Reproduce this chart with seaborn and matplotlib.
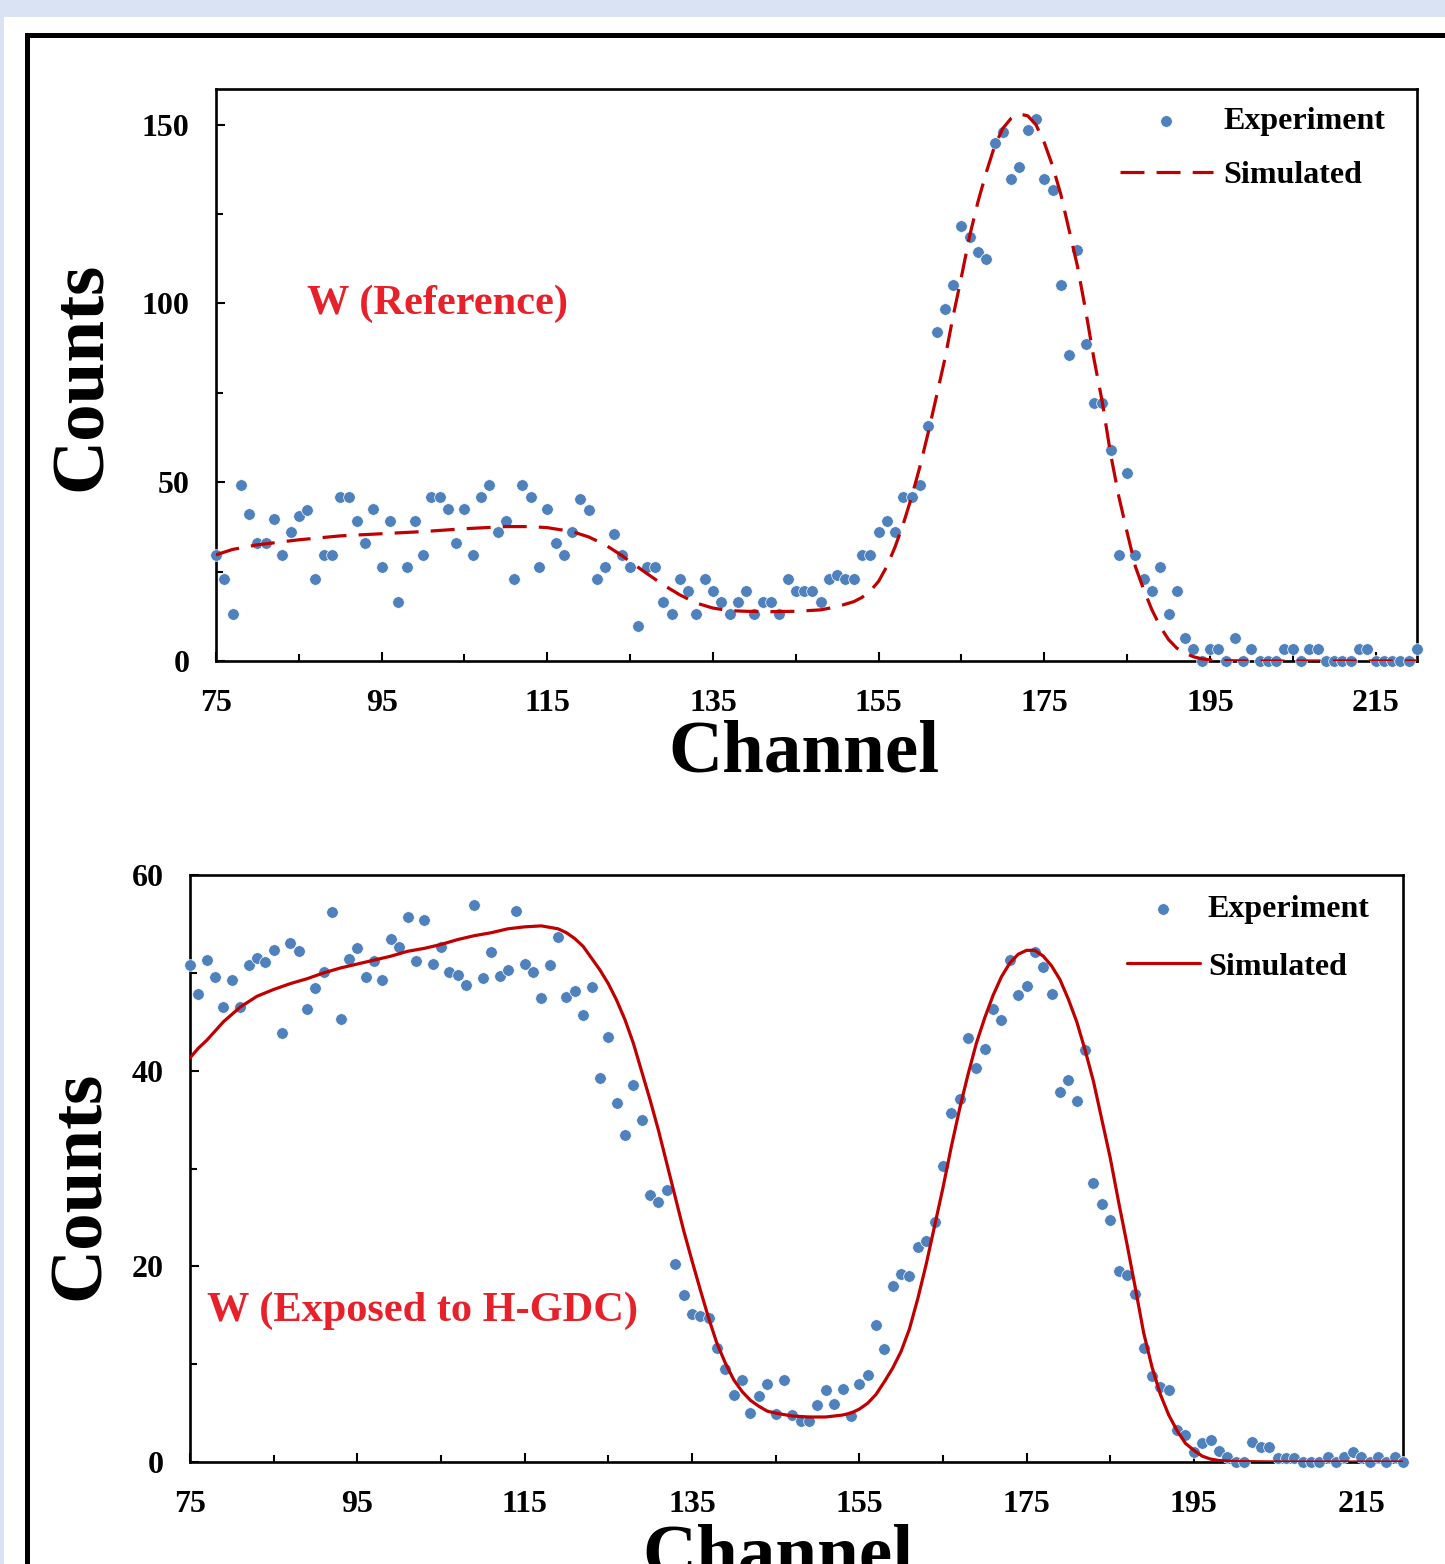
import numpy as np
import pandas as pd
import matplotlib
matplotlib.use("Agg")
import matplotlib.pyplot as plt
from matplotlib.patches import Rectangle
import seaborn as sns

# ---------------- data ----------------
channels = list(range(75, 221))

ref_counts = [
    29.7, 23.0, 13.2, 49.3, 41.0, 32.9, 32.9, 39.6, 29.7, 36.2,   # 75-84
    40.6, 42.3, 23.0, 29.7, 29.7, 46.0, 46.0, 39.3, 32.9, 42.5,   # 85-94
    26.3, 39.3, 16.4, 26.3, 39.3, 29.7, 46.0, 46.0, 42.5, 32.9,   # 95-104
    42.5, 29.7, 46.0, 49.3, 36.2, 39.3, 23.0, 49.3, 46.0, 26.3,   # 105-114
    42.5, 32.9, 29.7, 36.2, 45.3, 42.1, 23.0, 26.3, 35.4, 29.7,   # 115-124
    26.3, 9.9, 26.3, 26.3, 16.4, 13.2, 23.0, 19.7, 13.2, 23.0,    # 125-134
    19.7, 16.4, 13.2, 16.4, 19.7, 13.2, 16.4, 16.4, 13.2, 23.0,   # 135-144
    19.7, 19.7, 19.7, 16.4, 23.0, 24.1, 23.0, 23.0, 29.7, 29.7,   # 145-154
    36.2, 39.3, 36.2, 46.0, 46.0, 49.3, 65.7, 92.0, 98.6, 105.2,  # 155-164
    121.8, 118.5, 114.4, 112.4, 145.0, 148.1, 134.9, 138.2, 148.6, 151.6,  # 165-174
    134.9, 131.7, 105.2, 85.5, 115.1, 88.7, 72.2, 72.2, 59.1, 29.6,  # 175-184
    52.5, 29.6, 23.0, 19.7, 26.3, 13.2, 19.7, 6.5, 3.3, 0.0,      # 185-194
    3.3, 3.3, 0.0, 6.5, 0.0, 3.3, 0.0, 0.0, 0.0, 3.3,             # 195-204
    3.3, 0.0, 3.3, 3.3, 0.0, 0.0, 0.0, 0.0, 3.3, 3.3,             # 205-214
    0.0, 0.0, 0.0, 0.0, 0.0, 3.3,                                 # 215-220
]

ref_sim_ch = [75, 77, 80, 85, 90, 95, 100, 105, 110, 113, 115, 118, 120, 122,
              124, 125, 127, 129, 131, 133, 135, 137, 139, 142, 145, 148, 150,
              152, 153, 154, 155, 156, 157, 158, 159, 160, 161, 162, 163, 164,
              165, 166, 167, 168, 169, 170, 171, 172, 173, 174, 175, 176, 177,
              178, 179, 180, 181, 182, 183, 184, 185, 186, 187, 188, 189, 190,
              191, 192, 193, 194, 195, 197, 200, 220]
ref_sim_val = [29.7, 31.2, 32.5, 33.9, 35.0, 35.6, 36.2, 37.0, 37.6, 37.6, 37.3,
               36.2, 34.7, 32.5, 29.5, 27.8, 24.5, 21.3, 18.5, 16.2, 14.8, 14.1,
               13.9, 13.8, 13.9, 14.3, 15.2, 16.6, 17.8, 19.6, 22.3, 26.5, 32.0,
               38.5, 46.0, 54.5, 64.0, 74.2, 84.5, 96.5, 107.5, 119.0, 128.5,
               136.7, 144.0, 149.0, 151.8, 153.0, 152.5, 150.0, 145.0, 138.5,
               130.5, 120.5, 110.5, 98.0, 84.5, 72.5, 58.0, 46.0, 36.0, 26.4,
               20.0, 14.3, 9.6, 6.0, 3.6, 2.2, 1.2, 0.6, 0.3, 0.1, 0.0, 0.0]

gdc_counts = [
    50.8, 47.8, 51.3, 49.6, 46.5, 49.3, 46.5, 50.8, 51.5, 51.1,   # 75-84
    52.3, 43.9, 53.1, 52.2, 46.3, 48.5, 50.1, 56.2, 45.3, 51.4,   # 85-94
    52.5, 49.6, 51.2, 49.3, 53.5, 52.6, 55.7, 51.2, 55.4, 50.9,   # 95-104
    52.6, 50.1, 49.8, 48.8, 56.9, 49.5, 52.1, 49.7, 50.3, 56.3,   # 105-114
    50.9, 50.1, 47.4, 50.8, 53.7, 47.5, 48.1, 45.7, 48.6, 39.3,   # 115-124
    43.4, 36.7, 33.4, 38.5, 35.0, 27.3, 26.6, 27.8, 20.2, 17.1,   # 125-134
    15.1, 14.9, 14.7, 11.7, 9.5, 6.8, 8.4, 5.0, 6.7, 8.0,         # 135-144
    4.9, 8.4, 4.8, 4.2, 4.2, 5.8, 7.4, 5.9, 7.5, 4.7,             # 145-154
    8.0, 8.9, 14.0, 11.6, 18.0, 19.2, 19.0, 22.0, 22.6, 24.5,     # 155-164
    30.3, 35.7, 37.1, 43.3, 40.3, 42.2, 46.3, 45.2, 51.3, 47.7,   # 165-174
    48.7, 52.1, 50.6, 47.8, 37.8, 39.0, 36.9, 42.1, 28.5, 26.4,   # 175-184
    24.7, 19.5, 19.1, 17.2, 11.7, 8.8, 7.7, 7.4, 3.3, 2.8,        # 185-194
    1.0, 1.9, 2.2, 1.1, 0.5, 0.0, 0.0, 2.0, 1.5, 1.5,             # 195-204
    0.4, 0.4, 0.4, 0.0, 0.0, 0.0, 0.5, 0.0, 0.5, 1.0,             # 205-214
    0.5, 0.0, 0.5, 0.0, 0.5, 0.0,                                 # 215-220
]

gdc_sim_ch = [75, 76, 77, 79, 81, 83, 85, 87, 89, 91, 93, 95, 97, 99, 101, 103,
              105, 107, 109, 111, 113, 115, 117, 119, 120, 121, 122, 123, 124,
              125, 126, 127, 128, 129, 130, 131, 132, 133, 134, 135, 136, 137,
              138, 139, 140, 141, 142, 143, 144, 145, 147, 149, 151, 153, 154,
              155, 156, 157, 158, 159, 160, 161, 162, 163, 164, 165, 166, 167,
              168, 169, 170, 171, 172, 173, 174, 175, 176, 177, 178, 179, 180,
              181, 182, 183, 184, 185, 186, 187, 188, 189, 190, 191, 192, 193,
              194, 195, 196, 197, 198, 200, 205, 220]
gdc_sim_val = [41.3, 42.3, 43.1, 45.0, 46.5, 47.6, 48.3, 48.9, 49.4, 50.0, 50.5,
               50.9, 51.3, 51.7, 52.2, 52.5, 52.9, 53.4, 53.8, 54.1, 54.5, 54.7,
               54.8, 54.5, 54.1, 53.5, 52.7, 51.5, 50.3, 48.9, 47.2, 45.2, 42.8,
               39.9, 37.0, 33.9, 30.5, 27.1, 23.7, 20.6, 17.6, 14.7, 12.1, 10.1,
               8.4, 7.2, 6.3, 5.7, 5.2, 5.0, 4.7, 4.6, 4.6, 4.8, 5.0, 5.4, 6.0,
               6.9, 8.2, 9.6, 11.3, 13.6, 16.7, 20.2, 24.1, 28.0, 32.2, 36.1,
               39.6, 42.8, 45.4, 47.7, 49.6, 51.0, 51.9, 52.3, 52.3, 51.7, 50.7,
               49.3, 47.3, 45.0, 42.1, 38.9, 35.0, 31.1, 26.6, 22.3, 17.8, 13.2,
               9.7, 6.9, 4.8, 3.2, 1.9, 1.2, 0.6, 0.3, 0.15, 0.05, 0.0, 0.0]

x_major = [75, 95, 115, 135, 155, 175, 195, 215]
x_minor = [85, 105, 125, 145, 165, 185, 205]
ref_y_major = [0, 50, 100, 150]
ref_y_minor = [25, 75, 125]
gdc_y_major = [0, 20, 40, 60]
gdc_y_minor = [10, 30, 50]

legend_labels = ["Experiment", "Simulated"]
xlabel = "Channel"
ylabel = "Counts"
ref_title = "W (Reference)"
gdc_title = "W (Exposed to H-GDC)"

# ---------------- style ----------------
sns.set_theme(style="white")
plt.rcParams["font.family"] = ["Liberation Serif", "DejaVu Serif"]
plt.rcParams["font.weight"] = "bold"
plt.rcParams["axes.labelweight"] = "bold"
plt.rcParams["text.color"] = "black"
plt.rcParams["axes.labelcolor"] = "black"
plt.rcParams["xtick.color"] = "black"
plt.rcParams["ytick.color"] = "black"
plt.rcParams["xtick.labelcolor"] = "black"
plt.rcParams["ytick.labelcolor"] = "black"

PT_BLUE = "#4F81BD"
LINE_RED = "#C00000"
TEXT_RED = "#E8202A"
BG_BLUE = "#DAE3F3"

W, H = 1445, 1564
fig = plt.figure(figsize=(W / 100, H / 100), dpi=100, facecolor=BG_BLUE)

def fx(px):
    return px / W

def fy(py):
    return 1 - py / H

# white panel and black frame
fig.patches.append(Rectangle((fx(4), -0.1), 1.2, fy(17) + 0.1, transform=fig.transFigure,
                             facecolor="white", edgecolor="none", zorder=-3))
fig.patches.append(Rectangle((fx(26.5), -0.2), 1.2, fy(34.5) + 0.2, transform=fig.transFigure,
                             facecolor="none", edgecolor="black", linewidth=3.6, zorder=-2))

ax1 = fig.add_axes([fx(216), fy(661), fx(1417) - fx(216), fy(89) - fy(661)])
ax2 = fig.add_axes([fx(190), fy(1462), fx(1403) - fx(190), fy(875) - fy(1462)])

df_ref = pd.DataFrame({"Channel": channels, "Counts": ref_counts})
df_ref_sim = pd.DataFrame({"Channel": ref_sim_ch, "Counts": ref_sim_val})
df_gdc = pd.DataFrame({"Channel": channels, "Counts": gdc_counts})
df_gdc_sim = pd.DataFrame({"Channel": gdc_sim_ch, "Counts": gdc_sim_val})

def style_axes(ax, ymax, ymaj, ymin, xpad):
    ax.set_facecolor("white")
    ax.set_xlim(75, 220)
    ax.set_ylim(0, ymax)
    ax.set_xticks(x_major)
    ax.set_xticks(x_minor, minor=True)
    ax.set_yticks(ymaj)
    ax.set_yticks(ymin, minor=True)
    ax.set_xticklabels([str(v) for v in x_major])
    ax.set_yticklabels([str(v) for v in ymaj])
    for sp in ax.spines.values():
        sp.set_visible(True)
        sp.set_color("black")
        sp.set_linewidth(1.9)
    ax.tick_params(which="both", direction="in", color="black", width=1.5,
                   top=False, right=False, bottom=True, left=True)
    ax.tick_params(which="major", length=6.5)
    ax.tick_params(which="minor", length=5)
    ax.tick_params(axis="x", which="major", pad=xpad, labelsize=23)
    ax.tick_params(axis="y", which="major", pad=19, labelsize=23)
    for lab in ax.get_xticklabels() + ax.get_yticklabels():
        lab.set_fontweight("bold")
        lab.set_color("black")
    ax.set_xlabel("")
    ax.set_ylabel("")
    ax.grid(False)

# ---- top panel ----
sns.scatterplot(data=df_ref, x="Channel", y="Counts", ax=ax1, color=PT_BLUE, s=70,
                edgecolor="white", linewidth=0.5, label=legend_labels[0],
                clip_on=False, zorder=3)
sns.lineplot(data=df_ref_sim, x="Channel", y="Counts", ax=ax1, color=LINE_RED,
             linewidth=2.3, linestyle=(0, (7.5, 3.8)), label=legend_labels[1],
             errorbar=None, zorder=4)
style_axes(ax1, 160, ref_y_major, ref_y_minor, 20)
h, l = ax1.get_legend_handles_labels()
ax1.legend(h, l, loc="upper left", bbox_to_anchor=((1120 - 216) / 1201, (661 - 107) / 572),
           frameon=False, handlelength=2.9, handletextpad=0.34,
           labelspacing=0.77, borderpad=0, borderaxespad=0, scatterpoints=1,
           prop={"weight": "bold", "size": 23})
ax1.text(86.0, 100, ref_title, color=TEXT_RED, fontsize=30.5, fontweight="bold",
         ha="left", va="center")

# ---- bottom panel ----
sns.scatterplot(data=df_gdc, x="Channel", y="Counts", ax=ax2, color=PT_BLUE, s=70,
                edgecolor="white", linewidth=0.5, label=legend_labels[0],
                clip_on=False, zorder=3)
sns.lineplot(data=df_gdc_sim, x="Channel", y="Counts", ax=ax2, color=LINE_RED,
             linewidth=2.3, label=legend_labels[1], errorbar=None, zorder=4)
style_axes(ax2, 60, gdc_y_major, gdc_y_minor, 20.5)
h, l = ax2.get_legend_handles_labels()
ax2.legend(h, l, loc="upper left", bbox_to_anchor=((1127 - 190) / 1213, (1462 - 895) / 587),
           frameon=False, handlelength=2.28, handletextpad=0.25,
           labelspacing=0.87, borderpad=0, borderaxespad=0, scatterpoints=1,
           prop={"weight": "bold", "size": 23})
ax2.text(77.0, 15.5, gdc_title, color=TEXT_RED, fontsize=30.5, fontweight="bold",
         ha="left", va="center")

# axis labels
fig.text(fx(804), fy(754), xlabel, fontsize=54, fontweight="bold", ha="center", va="center")
fig.text(fx(83), fy(376), ylabel, fontsize=54, fontweight="bold", ha="center", va="center",
         rotation=90)
fig.text(fx(778), fy(1557), xlabel, fontsize=54, fontweight="bold", ha="center", va="center")
fig.text(fx(81), fy(1185), ylabel, fontsize=54, fontweight="bold", ha="center", va="center",
         rotation=90)

fig.savefig("out.png", dpi=100, facecolor=BG_BLUE)
